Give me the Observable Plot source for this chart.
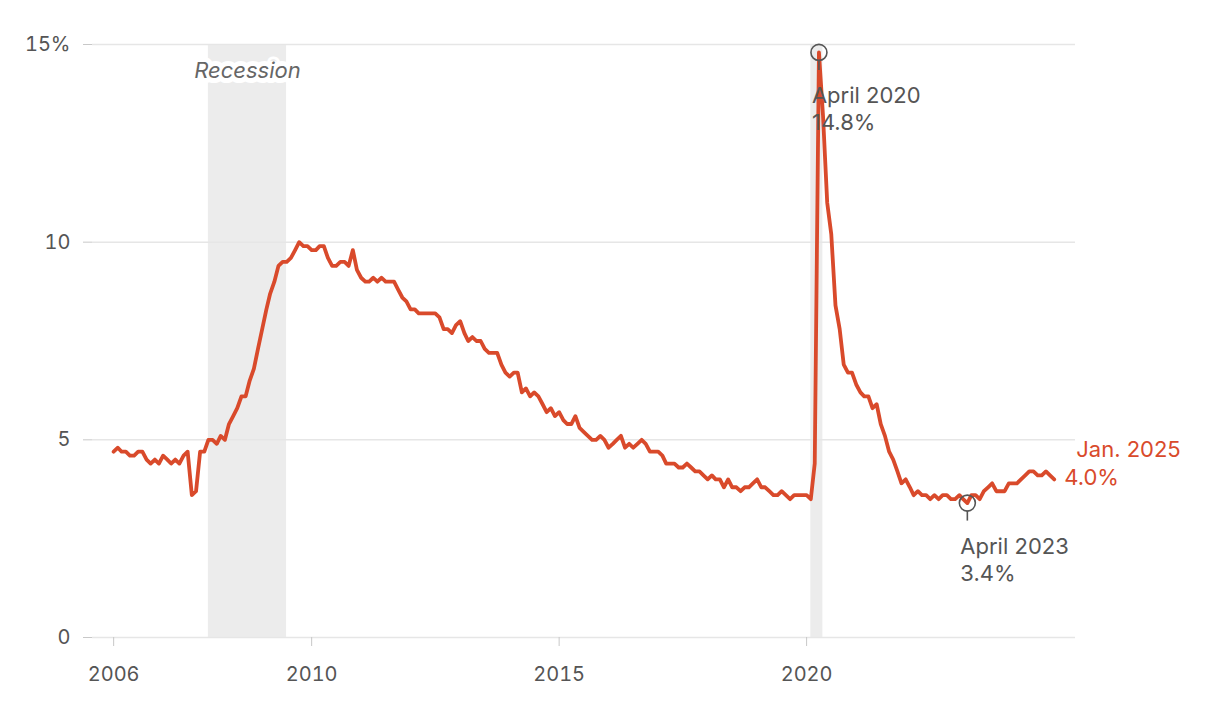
<!DOCTYPE html>
<html>
<head>
<meta charset="utf-8">
<script src="https://cdn.jsdelivr.net/npm/d3@7"></script>
<script src="https://cdn.jsdelivr.net/npm/@observablehq/plot@0.6"></script>
<style>
  html, body { margin: 0; padding: 0; background: #fff; }
  #chart svg { display: block; }
</style>
</head>
<body>
<div id="chart"></div>
<script>
// Monthly unemployment rate (%), starting January 2006, ending January 2025
const startYear = 2006;
const rates = [
  4.7,4.8,4.7,4.7,4.6,4.6,4.7,4.7,4.5,4.4,4.5,4.4,       // 2006
  4.6,4.5,4.4,4.5,4.4,4.6,4.7,3.6,3.7,4.7,4.7,5.0,       // 2007
  5.0,4.9,5.1,5.0,5.4,5.6,5.8,6.1,6.1,6.5,6.8,7.3,       // 2008
  7.8,8.3,8.7,9.0,9.4,9.5,9.5,9.6,9.8,10.0,9.9,9.9,      // 2009
  9.8,9.8,9.9,9.9,9.6,9.4,9.4,9.5,9.5,9.4,9.8,9.3,       // 2010
  9.1,9.0,9.0,9.1,9.0,9.1,9.0,9.0,9.0,8.8,8.6,8.5,       // 2011
  8.3,8.3,8.2,8.2,8.2,8.2,8.2,8.1,7.8,7.8,7.7,7.9,       // 2012
  8.0,7.7,7.5,7.6,7.5,7.5,7.3,7.2,7.2,7.2,6.9,6.7,       // 2013
  6.6,6.7,6.7,6.2,6.3,6.1,6.2,6.1,5.9,5.7,5.8,5.6,       // 2014
  5.7,5.5,5.4,5.4,5.6,5.3,5.2,5.1,5.0,5.0,5.1,5.0,       // 2015
  4.8,4.9,5.0,5.1,4.8,4.9,4.8,4.9,5.0,4.9,4.7,4.7,       // 2016
  4.7,4.6,4.4,4.4,4.4,4.3,4.3,4.4,4.3,4.2,4.2,4.1,       // 2017
  4.0,4.1,4.0,4.0,3.8,4.0,3.8,3.8,3.7,3.8,3.8,3.9,       // 2018
  4.0,3.8,3.8,3.7,3.6,3.6,3.7,3.6,3.5,3.6,3.6,3.6,       // 2019
  3.6,3.5,4.4,14.8,13.2,11.0,10.2,8.4,7.8,6.9,6.7,6.7,   // 2020
  6.4,6.2,6.1,6.1,5.8,5.9,5.4,5.1,4.7,4.5,4.2,3.9,       // 2021
  4.0,3.8,3.6,3.7,3.6,3.6,3.5,3.6,3.5,3.6,3.6,3.5,       // 2022
  3.5,3.6,3.5,3.4,3.6,3.6,3.5,3.7,3.8,3.9,3.7,3.7,       // 2023
  3.7,3.9,3.9,3.9,4.0,4.1,4.2,4.2,4.1,4.1,4.2,4.1,       // 2024
  4.0                                                    // 2025
];

const recessionStarts = ["2007-12-01", "2020-02-01"];
const recessionEnds   = ["2009-06-30", "2020-04-30"];
const recessionLabel  = "Recession";

const annotationDates  = ["2020-04-01", "2023-04-01"];
const annotationValues = [14.8, 3.4];
const annotationLabels = ["April 2020\n14.8%", "April 2023\n3.4%"];

const lastLabelDate  = "Jan. 2025";
const lastLabelValue = "4.0%";

const yTicks = [0, 5, 10, 15];
const xTickYears = [2006, 2010, 2015, 2020];

// ---- build tables ----
const series = rates.map((v, i) => ({date: new Date(Date.UTC(startYear, i, 1)), value: v}));
const recessions = recessionStarts.map((s, i) => ({start: new Date(s), end: new Date(recessionEnds[i])}));
const annotations = annotationDates.map((d, i) => ({date: new Date(d), value: annotationValues[i], label: annotationLabels[i]}));
const last = [series[series.length - 1]];
const recessionText = [{date: new Date((+recessions[0].start + +recessions[0].end) / 2), text: recessionLabel}];
const xTicks = xTickYears.map(y => new Date(Date.UTC(y, 0, 1)));

const red = "#d94a2b";
const grey = "#555";

const chart = Plot.plot({
  width: 1220,
  height: 700,
  marginLeft: 92,
  marginRight: 145,
  marginTop: 44,
  marginBottom: 63,
  style: {fontFamily: "Inter, 'Noto Sans', sans-serif", fontSize: "20px", background: "#fff", overflow: "visible"},
  x: {type: "utc", domain: [new Date(Date.UTC(2005, 6, 29)), new Date(Date.UTC(2025, 5, 7))]},
  y: {domain: [0, 15]},
  marks: [
    Plot.rect(recessions, {x1: "start", x2: "end", y1: 0, y2: 15, fill: "#ececec"}),
    Plot.gridY(yTicks, {stroke: "#e6e6e6", strokeOpacity: 1, strokeWidth: 1.5}),
    Plot.axisY(yTicks, {
      tickSize: 9, tickPadding: 13, stroke: "#c8c8c8", fill: grey, fontSize: 20,
      tickFormat: d => d === 15 ? "15%" : String(d), label: null
    }),
    Plot.axisX(xTicks, {
      tickSize: 9, tickPadding: 20, stroke: "#c8c8c8", fill: grey, fontSize: 20,
      tickFormat: d3.utcFormat("%Y"), label: null
    }),
    Plot.text(recessionText, {
      x: "date", y: () => 15, text: "text", dy: 26, fontSize: 22, fontStyle: "italic",
      fill: "#666", stroke: "#fff", strokeWidth: 10, strokeLinejoin: "round"
    }),
    Plot.line(series, {x: "date", y: "value", stroke: red, strokeWidth: 3.8, strokeLinejoin: "round", strokeLinecap: "round"}),
    Plot.dot(annotations, {x: "date", y: "value", r: 8, stroke: grey, strokeWidth: 1.6, fill: "none"}),
    Plot.ruleX(annotations, {x: "date", y1: "value", y2: "value", insetTop: 8, insetBottom: -18, stroke: grey, strokeWidth: 1.6}),
    Plot.text(annotations, {
      x: "date", y: "value", text: "label", textAnchor: "start", lineAnchor: "top",
      dx: -7, dy: 32, lineHeight: 1.22, fontSize: 22, fill: grey
    }),
    Plot.text(last, {x: "date", y: "value", text: () => lastLabelDate, textAnchor: "start", dx: 22, dy: -29, fontSize: 22, fill: red}),
    Plot.text(last, {x: "date", y: "value", text: () => lastLabelValue, textAnchor: "start", dx: 10, dy: -1, fontSize: 22, fill: red})
  ]
});

document.getElementById("chart").appendChild(chart);
</script>
</body>
</html>
